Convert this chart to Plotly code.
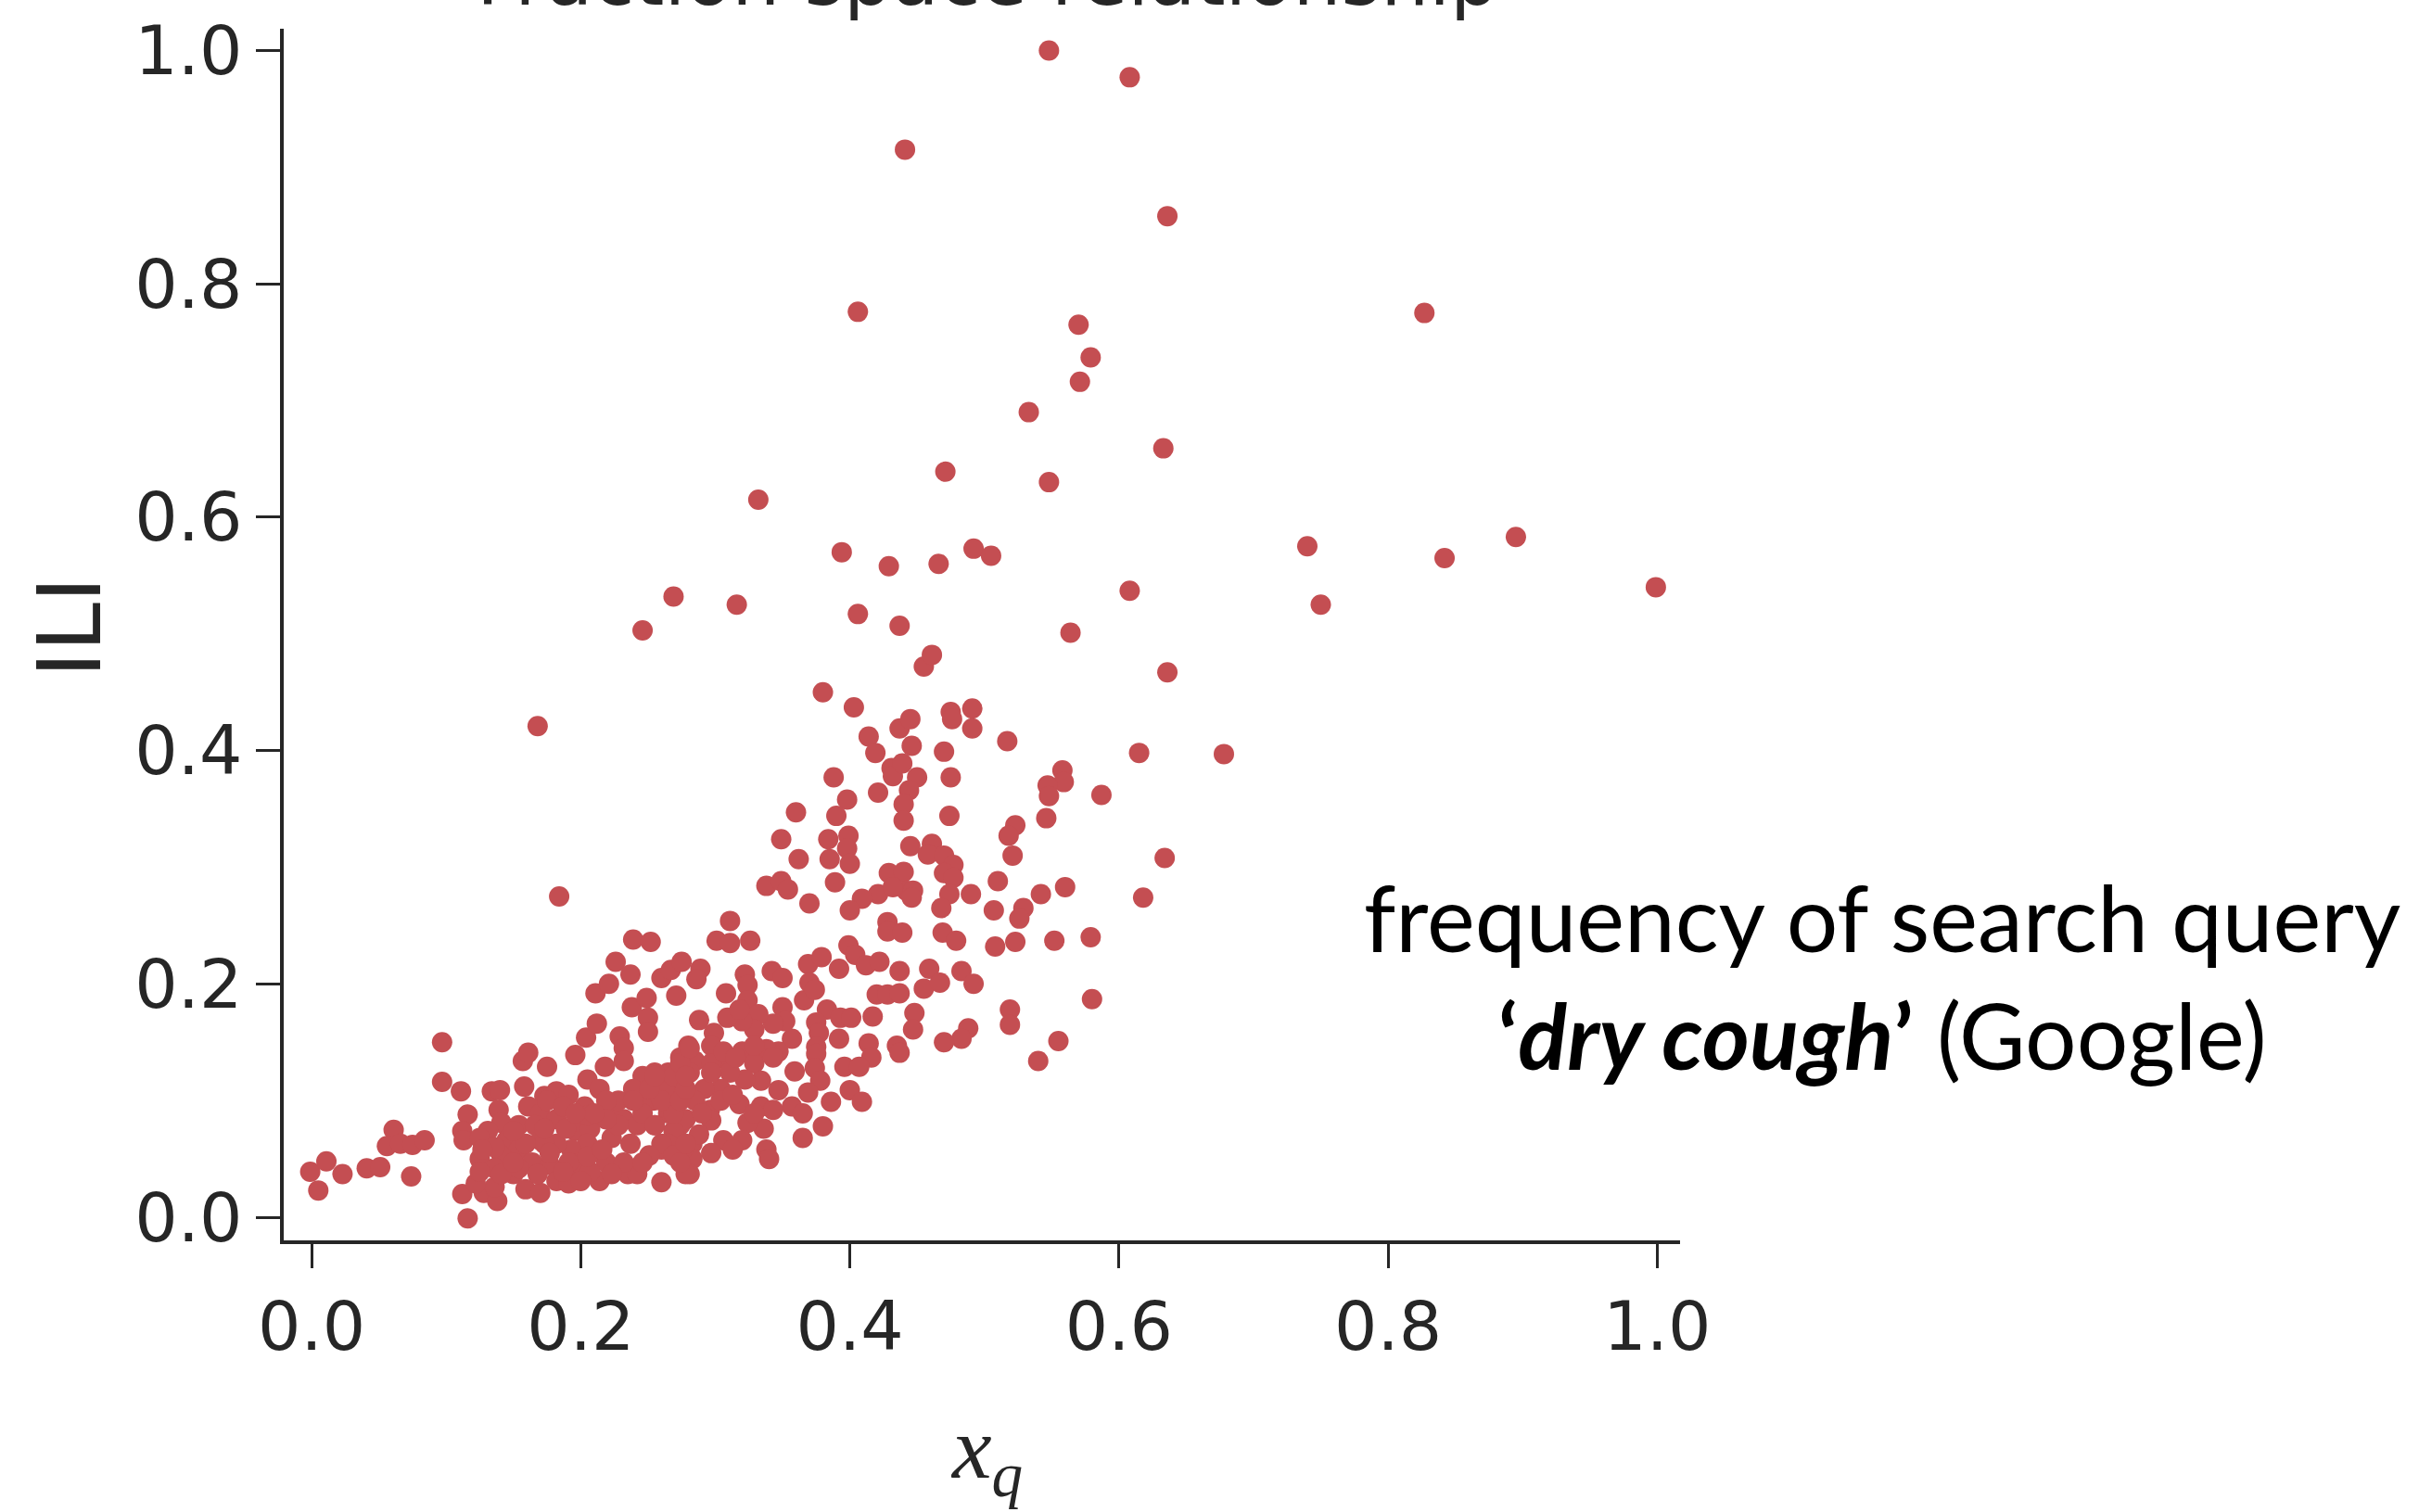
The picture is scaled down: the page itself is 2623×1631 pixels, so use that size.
import plotly.graph_objects as go

# ---- data (x_q vs ILI) ----
x_outliers = [0.548, 0.608, 0.441, 0.636, 0.406, 0.827, 0.570, 0.579, 0.571, 0.533, 0.633, 0.471, 0.548, 0.332,
              0.740, 0.895, 0.842, 0.999, 0.750, 0.608, 0.394, 0.429, 0.466, 0.492, 0.505, 0.269, 0.316, 0.406,
              0.437, 0.246, 0.564, 0.636, 0.168]
y_outliers = [1.000, 0.977, 0.915, 0.858, 0.776, 0.775, 0.765, 0.737, 0.716, 0.690, 0.659, 0.639, 0.630, 0.615,
              0.575, 0.583, 0.565, 0.540, 0.525, 0.537, 0.570, 0.558, 0.560, 0.573, 0.567, 0.532, 0.525, 0.517,
              0.507, 0.503, 0.501, 0.467, 0.421]

x_mid = [0.380, 0.403, 0.455, 0.461, 0.414, 0.419, 0.437, 0.445, 0.446, 0.470, 0.475, 0.476, 0.491, 0.491,
         0.431, 0.432, 0.439, 0.450, 0.444, 0.440, 0.440, 0.475, 0.474, 0.421, 0.388, 0.398, 0.390, 0.360,
         0.349, 0.362, 0.384, 0.399, 0.398, 0.385, 0.400, 0.389, 0.338, 0.349, 0.354, 0.370, 0.445, 0.461,
         0.458, 0.470, 0.477, 0.470, 0.477, 0.429, 0.440, 0.442, 0.447, 0.421, 0.409, 0.400, 0.432, 0.446,
         0.474, 0.468, 0.490, 0.428, 0.311, 0.184,
         0.517, 0.615, 0.678, 0.558, 0.559, 0.547, 0.548, 0.587, 0.546, 0.523, 0.518, 0.521, 0.634, 0.618,
         0.560, 0.542, 0.529, 0.526, 0.510, 0.507, 0.579, 0.580]
y_mid = [0.450, 0.437, 0.472, 0.482, 0.412, 0.398, 0.419, 0.427, 0.404, 0.399, 0.433, 0.427, 0.436, 0.419,
         0.385, 0.378, 0.389, 0.377, 0.366, 0.354, 0.340, 0.377, 0.344, 0.364, 0.377, 0.358, 0.344, 0.347,
         0.324, 0.307, 0.324, 0.327, 0.316, 0.307, 0.303, 0.287, 0.284, 0.288, 0.281, 0.269, 0.318, 0.320,
         0.311, 0.310, 0.302, 0.295, 0.291, 0.295, 0.296, 0.280, 0.280, 0.277, 0.273, 0.263, 0.283, 0.274,
         0.277, 0.265, 0.277, 0.253, 0.254, 0.275,
         0.408, 0.398, 0.397, 0.383, 0.373, 0.370, 0.361, 0.362, 0.342, 0.336, 0.327, 0.310, 0.308, 0.274,
         0.283, 0.277, 0.265, 0.256, 0.288, 0.263, 0.240, 0.187]

x_low = [0.301, 0.311, 0.326, 0.289, 0.286, 0.288, 0.308, 0.322, 0.324, 0.324, 0.342, 0.350, 0.350, 0.366,
         0.369, 0.379, 0.370, 0.374, 0.392, 0.399, 0.404, 0.412, 0.422, 0.437, 0.420, 0.428, 0.437, 0.459,
         0.455, 0.467, 0.483, 0.492, 0.428, 0.439, 0.469, 0.479, 0.508, 0.523, 0.552, 0.519, 0.519, 0.488,
         0.483, 0.470, 0.555, 0.540, 0.448, 0.447, 0.435, 0.437, 0.417, 0.414, 0.416, 0.392, 0.396, 0.407,
         0.400, 0.409, 0.383, 0.393, 0.401, 0.375, 0.377, 0.375, 0.375, 0.374, 0.378, 0.369, 0.386, 0.380,
         0.365, 0.359, 0.347, 0.357, 0.365, 0.357, 0.352, 0.343, 0.347, 0.338, 0.332, 0.329, 0.320, 0.309,
         0.318, 0.320, 0.329, 0.334, 0.322, 0.309, 0.299, 0.297, 0.280, 0.285, 0.297, 0.311, 0.304, 0.292,
         0.274, 0.265, 0.255, 0.274, 0.265, 0.254, 0.270, 0.285, 0.296, 0.297, 0.318, 0.334, 0.343, 0.336,
         0.324, 0.320, 0.306, 0.297, 0.283, 0.274, 0.283, 0.281, 0.260, 0.338, 0.340, 0.255,
         0.265, 0.278, 0.290, 0.304, 0.313, 0.306, 0.297, 0.281, 0.269, 0.288, 0.276, 0.265, 0.313, 0.329,
         0.343, 0.315, 0.329]
y_low = [0.237, 0.235, 0.237, 0.213, 0.204, 0.169, 0.192, 0.208, 0.199, 0.186, 0.211, 0.205, 0.180, 0.186,
         0.217, 0.223, 0.201, 0.195, 0.213, 0.233, 0.225, 0.216, 0.219, 0.211, 0.191, 0.191, 0.192, 0.213,
         0.196, 0.201, 0.211, 0.200, 0.245, 0.244, 0.244, 0.237, 0.232, 0.236, 0.237, 0.178, 0.165, 0.162,
         0.153, 0.150, 0.151, 0.134, 0.175, 0.161, 0.147, 0.141, 0.172, 0.149, 0.137, 0.153, 0.129, 0.129,
         0.109, 0.099, 0.178, 0.171, 0.171, 0.167, 0.158, 0.146, 0.140, 0.128, 0.117, 0.107, 0.099, 0.078,
         0.068, 0.125, 0.109, 0.095, 0.089, 0.153, 0.168, 0.166, 0.142, 0.144, 0.174, 0.161, 0.168, 0.171,
         0.178, 0.142, 0.132, 0.117, 0.118, 0.134, 0.158, 0.147, 0.147, 0.134, 0.132, 0.124, 0.110, 0.110,
         0.137, 0.124, 0.124, 0.116, 0.105, 0.100, 0.095, 0.100, 0.092, 0.083, 0.097, 0.095, 0.092, 0.076,
         0.081, 0.066, 0.066, 0.055, 0.063, 0.079, 0.050, 0.037, 0.058, 0.058, 0.050, 0.079,
         0.089, 0.084, 0.089, 0.100, 0.105, 0.142, 0.124, 0.124, 0.074, 0.071, 0.058, 0.063, 0.058, 0.089,
         0.137, 0.137, 0.147]

x_left = [-0.001, 0.011, 0.005, 0.023, 0.041, 0.051, 0.061, 0.056, 0.066, 0.075, 0.084, 0.074, 0.097, 0.097,
          0.111, 0.116, 0.112, 0.113, 0.116, 0.112, 0.125, 0.128, 0.138, 0.134, 0.140, 0.139, 0.157, 0.161,
          0.175, 0.158, 0.196, 0.204, 0.212, 0.211, 0.221, 0.226, 0.237, 0.239, 0.252, 0.238, 0.249, 0.250,
          0.250, 0.229, 0.232, 0.232, 0.218, 0.260, 0.267, 0.275, 0.271,
          0.205, 0.214, 0.173, 0.182, 0.191, 0.203, 0.161, 0.170, 0.182, 0.141, 0.131, 0.145, 0.154, 0.125,
          0.196, 0.207, 0.223, 0.232, 0.242, 0.251, 0.262, 0.269, 0.274, 0.281, 0.246, 0.239, 0.228, 0.269,
          0.260, 0.237, 0.223, 0.205, 0.193, 0.182, 0.170, 0.154, 0.141, 0.136, 0.150, 0.159, 0.170, 0.164,
          0.177, 0.182, 0.191, 0.200, 0.214, 0.219, 0.235, 0.242, 0.260, 0.278, 0.232, 0.251, 0.269, 0.136,
          0.122, 0.125, 0.219, 0.205, 0.166, 0.173, 0.196, 0.207, 0.154, 0.141,
          0.175, 0.187, 0.173, 0.189, 0.159, 0.177, 0.191, 0.205, 0.216, 0.228, 0.246, 0.255, 0.260, 0.274,
          0.278, 0.239, 0.251, 0.255, 0.278, 0.219, 0.210, 0.196, 0.150, 0.168, 0.187, 0.200, 0.223, 0.246,
          0.274, 0.278, 0.150, 0.136, 0.127]
y_left = [0.039, 0.048, 0.023, 0.037, 0.042, 0.043, 0.075, 0.061, 0.063, 0.062, 0.066, 0.035, 0.150, 0.116,
          0.108, 0.088, 0.074, 0.066, -0.001, 0.020, 0.050, 0.021, 0.014, 0.108, 0.109, 0.092, 0.134, 0.141,
          0.129, 0.112, 0.139, 0.154, 0.166, 0.192, 0.200, 0.219, 0.208, 0.238, 0.236, 0.180, 0.188, 0.171,
          0.159, 0.155, 0.145, 0.134, 0.129, 0.205, 0.212, 0.219, 0.190,
          0.118, 0.110, 0.104, 0.108, 0.105, 0.095, 0.095, 0.089, 0.084, 0.081, 0.074, 0.066, 0.079, 0.068,
          0.074, 0.076, 0.089, 0.084, 0.079, 0.100, 0.110, 0.121, 0.132, 0.145, 0.121, 0.110, 0.100, 0.089,
          0.063, 0.063, 0.068, 0.063, 0.058, 0.063, 0.066, 0.058, 0.053, 0.042, 0.037, 0.024, 0.021, 0.047,
          0.045, 0.031, 0.029, 0.047, 0.031, 0.047, 0.037, 0.037, 0.030, 0.037, 0.047, 0.053, 0.053, 0.026,
          0.029, 0.039, 0.100, 0.087, 0.079, 0.063, 0.042, 0.039, 0.042, 0.037,
          0.100, 0.095, 0.076, 0.076, 0.063, 0.055, 0.047, 0.052, 0.058, 0.079, 0.089, 0.079, 0.100, 0.100,
          0.110, 0.100, 0.110, 0.121, 0.121, 0.084, 0.089, 0.089, 0.047, 0.037, 0.039, 0.031, 0.037, 0.047,
          0.047, 0.063, 0.074, 0.060, 0.058]

x_q = x_outliers + x_mid + x_low + x_left
ili = y_outliers + y_mid + y_low + y_left

tick_vals = [0.0, 0.2, 0.4, 0.6, 0.8, 1.0]
tick_text = ["0.0", "0.2", "0.4", "0.6", "0.8", "1.0"]

DARK = "#262626"
RED = "#C44E52"

fig = go.Figure()
fig.add_trace(go.Scatter(
    x=x_q, y=ili, mode="markers",
    marker=dict(color=RED, size=22, line=dict(width=0)),
    showlegend=False, hoverinfo="skip",
))

axis_common = dict(
    showgrid=False, zeroline=False, showline=True, linecolor=DARK, linewidth=4,
    ticks="outside", ticklen=26, tickwidth=2.5, tickcolor=DARK,
    tickvals=tick_vals, ticktext=tick_text,
    tickfont=dict(family="DejaVu Sans", size=73, color=DARK),
)

fig.update_layout(
    width=2623, height=1631,
    margin=dict(l=306, r=811, t=25, b=293),
    paper_bgcolor="white", plot_bgcolor="white",
    xaxis=dict(range=[-0.0207, 1.017], ticklabelstandoff=0, **axis_common),
    yaxis=dict(range=[-0.0198, 1.0186], ticklabelstandoff=0, **axis_common),
    annotations=[
        dict(text="Fraction space relationship", xref="paper", yref="paper",
             x=0.504, y=1.004, xanchor="center", yanchor="bottom", showarrow=False,
             font=dict(family="DejaVu Sans", size=82, color=DARK)),
        dict(text="ILI", xref="paper", yref="paper", x=-0.1534, y=0.5065,
             xanchor="center", yanchor="middle", textangle=-90, showarrow=False,
             font=dict(family="DejaVu Sans", size=95, color=DARK)),
        dict(text="<i>x</i><sub><i>q</i></sub>", xref="paper", yref="paper", x=0.503, y=-0.176,
             xanchor="center", yanchor="middle", showarrow=False,
             font=dict(family="Liberation Serif", size=96, color=DARK)),
        dict(text="frequency of search query<br><b>‘<i>dry cough</i>’</b> (Google)",
             xref="paper", yref="paper", x=1.1448, y=0.2186,
             xanchor="center", yanchor="middle", align="center", showarrow=False,
             font=dict(family="Lato", size=98, color="black")),
    ],
)

fig.write_html("out.html")
